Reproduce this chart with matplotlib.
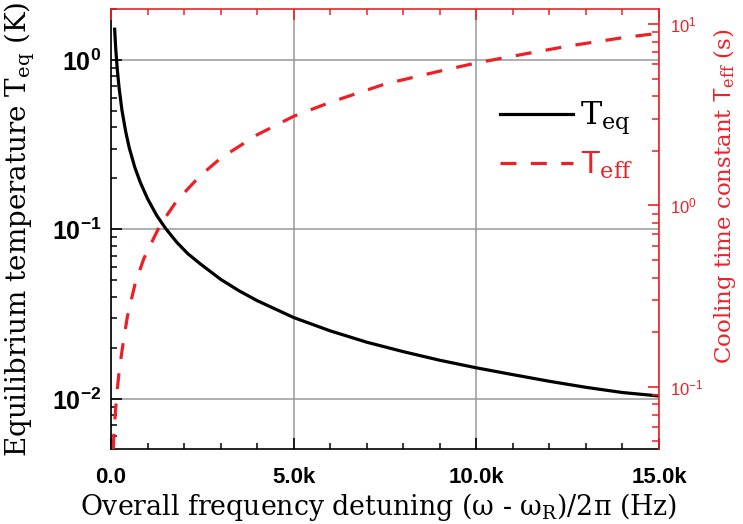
import math
import matplotlib
matplotlib.use('Agg')
import matplotlib.pyplot as plt
import matplotlib.ticker as ticker
from matplotlib.lines import Line2D

plt.rcParams['mathtext.fontset'] = 'custom'
plt.rcParams['mathtext.rm'] = 'DejaVu Serif'
plt.rcParams['mathtext.bf'] = 'Liberation Sans:bold'
plt.rcParams['mathtext.sf'] = 'Liberation Sans'

SERIF = 'DejaVu Serif'
SANS = 'Liberation Sans'
RED = '#ee2026'

# Equilibrium temperature (K) vs detuning (Hz)
f_eq = [100, 130, 170, 220, 300, 400, 500, 650, 800, 1000, 1250, 1500, 1800,
        2100, 2450, 3000, 3500, 4000, 5000, 6000, 7000, 8000, 9000, 10000,
        11000, 12000, 13000, 14000, 15000]
T_eq = [1.52, 1.16, 0.89, 0.69, 0.505, 0.38, 0.303, 0.233, 0.19, 0.152,
        0.121, 0.101, 0.084, 0.072, 0.0625, 0.0508, 0.0435, 0.038, 0.0302,
        0.0252, 0.0216, 0.019, 0.0169, 0.01525, 0.0139, 0.0127, 0.0117,
        0.0109, 0.0104]

# Cooling time constant (s) vs detuning (Hz)
f_eff = [60, 80, 120, 160, 230, 330, 450, 660, 900, 1340, 1800, 2430, 3000,
         4000, 5000, 6000, 7500, 9000, 10000, 11000, 12500, 14000, 15000]
T_eff = [0.045, 0.055, 0.072, 0.092, 0.125, 0.173, 0.245, 0.37, 0.51, 0.775,
         1.06, 1.45, 1.82, 2.45, 3.1, 3.7, 4.67, 5.5, 6.1, 6.65, 7.55, 8.4, 8.9]

x_ticks = [0, 5000, 10000, 15000]
x_labels = ['0.0', '5.0k', '10.0k', '15.0k']

fig = plt.figure(figsize=(7.43, 5.24), dpi=100)
ax = fig.add_axes([111 / 743, 1 - 449 / 524, (659 - 111) / 743, (449 - 9) / 524])
ax2 = ax.twinx()

ax.plot(f_eq, T_eq, color='black', lw=2.3, zorder=5)
ax2.plot(f_eff, T_eff, color=RED, lw=2.3, dashes=(5, 4.5), zorder=5)

ax.set_xlim(0, 15000)
ax.set_yscale('log')
ax.set_ylim(0.00506, 2.0)
ax2.set_yscale('log')
ax2.set_ylim(0.0454, 12.1)

# grid (left axis majors + x majors)
ax.grid(True, which='major', color='#999999', lw=1.1)
ax.set_axisbelow(True)

ax.set_xticks(x_ticks)
ax.set_xticklabels(x_labels, fontfamily=SANS, fontweight='bold', fontsize=16)
ax.xaxis.set_minor_locator(ticker.MultipleLocator(1000))
ax.yaxis.set_major_formatter(ticker.FuncFormatter(
    lambda v, p: r'$\mathbf{10^{%d}}$' % round(math.log10(v))))
ax.yaxis.set_minor_formatter(ticker.NullFormatter())
ax.tick_params(axis='both', which='both', direction='in', color='black')
ax.tick_params(axis='both', which='major', length=8, width=1.2)
ax.tick_params(axis='both', which='minor', length=4, width=1.1)
ax.tick_params(axis='y', which='major', labelsize=18, pad=7)
ax.tick_params(axis='x', which='major', pad=13)

# right axis styling
ax2.yaxis.set_major_formatter(ticker.FuncFormatter(
    lambda v, p: r'$\mathregular{10^{%d}}$' % round(math.log10(v))))
ax2.yaxis.set_minor_formatter(ticker.NullFormatter())
ax2.tick_params(axis='y', which='both', direction='in', colors=RED)
ax2.tick_params(axis='y', which='major', length=8, width=1.2, labelsize=12, pad=8)
ax2.tick_params(axis='y', which='minor', length=5, width=1.1)
for lab in ax2.get_yticklabels():
    lab.set_fontfamily(SANS)

# top ticks in red
ax2.xaxis.set_visible(True)
ax2.tick_params(axis='x', which='both', bottom=False, top=True, labelbottom=False,
                labeltop=False, direction='in', color=RED)
ax2.tick_params(axis='x', which='major', length=8, width=1.2)
ax2.tick_params(axis='x', which='minor', length=4, width=1.1)

for s in ['top', 'right']:
    ax.spines[s].set_visible(False)
    ax2.spines[s].set_color(RED)
    ax2.spines[s].set_linewidth(1.2)
for s in ['left', 'bottom']:
    ax2.spines[s].set_visible(False)
    ax.spines[s].set_linewidth(1.2)

ax.set_xlabel(r'Overall frequency detuning (ω - ω$_{\mathregular{R}}$)/2π (Hz)',
              fontfamily=SERIF, fontsize=19.3)
ax.xaxis.set_label_coords(0.489, -0.096)
ax.set_ylabel(r'Equilibrium temperature T$_{\mathregular{eq}}$ (K)',
              fontfamily=SERIF, fontsize=20)
ax.yaxis.set_label_coords(-0.135, 0.50)
ax2.set_ylabel(r'Cooling time constant $\mathsf{T}_{\mathregular{eff}}$ (s)',
               fontfamily=SERIF, fontsize=16.5, color=RED)
ax2.yaxis.set_label_coords(1.095, 0.575)

handles = [Line2D([], [], color='black', lw=2.3),
           Line2D([], [], color=RED, lw=2.3, dashes=(5, 4.5))]
leg = ax2.legend(handles, [r'T$_{\mathregular{eq}}$', r'$\mathsf{T}_{\mathregular{eff}}$'],
                 loc='upper left', bbox_to_anchor=(0.657, 0.859), frameon=False,
                 prop={'family': SERIF, 'size': 23}, handlelength=2.3,
                 handletextpad=0.2, labelspacing=0.4)
leg.get_texts()[1].set_color(RED)

fig.savefig('out.png', dpi=100)
